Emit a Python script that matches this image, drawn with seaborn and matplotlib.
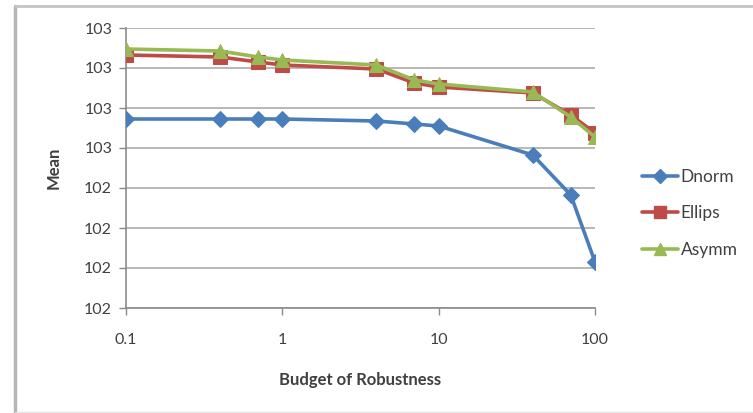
import matplotlib
matplotlib.use("Agg")
import matplotlib.pyplot as plt
from matplotlib.lines import Line2D
import numpy as np
import pandas as pd
import seaborn as sns

# Budget of robustness levels and mean results per uncertainty set
budget = [0.1, 0.4, 0.7, 1, 4, 7, 10, 40, 70, 100]
dnorm = [102.5725, 102.5725, 102.5725, 102.5725, 102.5675, 102.56, 102.555, 102.4825, 102.3825, 102.215]
ellips = [102.7325, 102.7275, 102.715, 102.7075, 102.6975, 102.6625, 102.6525, 102.6375, 102.5825, 102.5375]
asymm = [102.7475, 102.7425, 102.7275, 102.72, 102.7075, 102.67, 102.66, 102.64, 102.5775, 102.5275]

series_names = ["Dnorm", "Ellips", "Asymm"]
y_ticks = [102.1, 102.2, 102.3, 102.4, 102.5, 102.6, 102.7, 102.8]
y_tick_labels = ["102", "102", "102", "102", "103", "103", "103", "103"]
x_ticks = [0.1, 1, 10, 100]
x_tick_labels = ["0.1", "1", "10", "100"]

df = pd.DataFrame({
    "Budget": budget * 3,
    "Mean": dnorm + ellips + asymm,
    "Series": [s for s in series_names for _ in budget],
})

sns.set_theme(style="white")
plt.rcParams["font.family"] = ["Lato", "DejaVu Sans"]

colors = {"Dnorm": "#4a7ebb", "Ellips": "#be4b48", "Asymm": "#98b954"}
markers = {"Dnorm": "D", "Ellips": "s", "Asymm": "^"}
msizes = {"Dnorm": 8, "Ellips": 10, "Asymm": 10}

fig = plt.figure(figsize=(7.53, 4.13), dpi=100)
ax = fig.add_axes([126 / 753, 1 - 308 / 413, 469 / 753, 280 / 413])

for name in series_names:
    sub = df[df["Series"] == name]
    sns.lineplot(data=sub, x="Budget", y="Mean", ax=ax, color=colors[name],
                 marker=markers[name], markersize=msizes[name],
                 markeredgecolor=colors[name], linewidth=2.6, label=name,
                 legend=False, zorder=3)

ax.set_xscale("log")
ax.set_xlim(0.1, 100)
ax.set_ylim(102.1, 102.8)
ax.set_xticks(x_ticks)
ax.set_xticklabels(x_tick_labels)
ax.minorticks_off()
ax.set_yticks(y_ticks)
ax.set_yticklabels(y_tick_labels)

ax.yaxis.grid(True, color="#b8b8b8", linewidth=1.4, zorder=0)
ax.xaxis.grid(False)
for side in ["top", "right"]:
    ax.spines[side].set_visible(False)
for side in ["left", "bottom"]:
    ax.spines[side].set_color("#8a8a8a")
    ax.spines[side].set_linewidth(1.2)

ax.tick_params(axis="both", which="major", direction="out", length=5,
               width=1.0, color="#8a8a8a", labelsize=11.5, labelcolor="#404040")
ax.tick_params(axis="y", pad=5, left=True)
ax.tick_params(axis="x", pad=13, bottom=True)

ax.set_xlabel("Budget of Robustness", fontsize=12, fontweight="bold",
              color="#404040", labelpad=18)
ax.set_ylabel("Mean", fontsize=12, fontweight="bold", color="#404040", labelpad=16)

handles = [Line2D([0], [0], color=colors[n], marker=markers[n], markersize=msizes[n] * 0.9,
                  linewidth=2.6, markeredgecolor=colors[n]) for n in series_names]
fig.legend(handles, series_names, loc="upper left", bbox_to_anchor=(626 / 753, 1 - 153 / 413),
           frameon=False, fontsize=12.5, labelcolor="#404040", handlelength=2.1,
           handletextpad=0.15, labelspacing=1.2)

# Chart-area border
frame_color = "#c4c4c4"
fig.add_artist(Line2D([15 / 753, 15 / 753], [1 - 6 / 413, 0], color="#b5b5b5",
                      linewidth=2.5, transform=fig.transFigure))
fig.add_artist(Line2D([15 / 753, 752 / 753], [1 - 6 / 413, 1 - 6 / 413], color=frame_color,
                      linewidth=2.0, transform=fig.transFigure))
fig.add_artist(Line2D([15 / 753, 752 / 753], [1 - 412 / 413, 1 - 412 / 413], color="#e4e4e4",
                      linewidth=1.0, transform=fig.transFigure))

fig.savefig("out.png", dpi=100)
